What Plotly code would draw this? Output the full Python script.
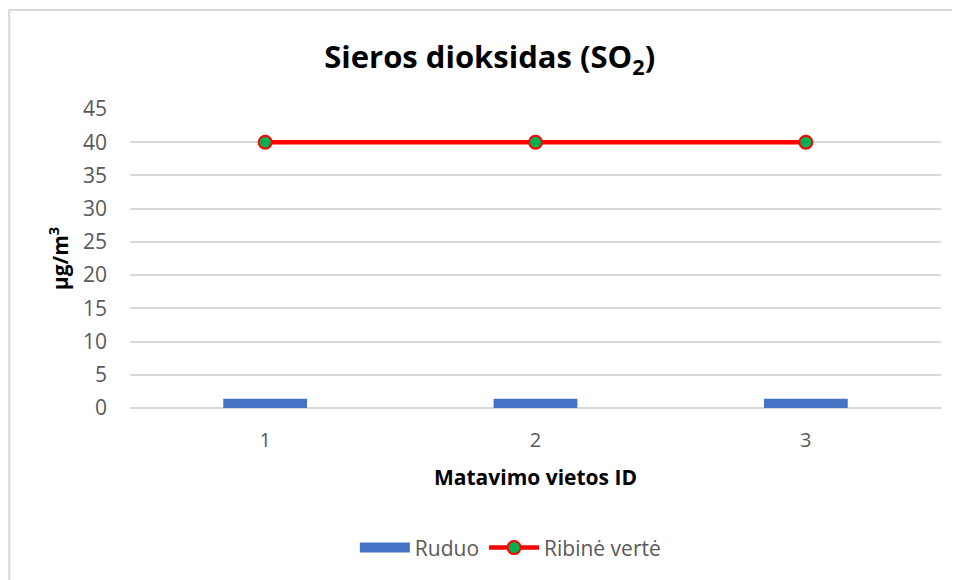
import plotly.graph_objects as go

sites = ['1', '2', '3']
ruduo = [1.4, 1.4, 1.4]
ribine_verte = [40, 40, 40]
y_ticks = [0, 5, 10, 15, 20, 25, 30, 35, 40, 45]

FONT = 'Open Sans'
GRID = '#d9d9d9'
TXT = '#595959'
BLUE = '#4472c4'

fig = go.Figure()

fig.add_trace(go.Bar(
    name='Ruduo',
    x=sites,
    y=ruduo,
    width=0.31,
    marker=dict(color=BLUE, line=dict(width=0)),
    showlegend=False,
    legendgroup='ruduo',
))

# legend entry drawn as a wide rectangle like in Excel
fig.add_trace(go.Scatter(
    name='Ruduo',
    x=[None],
    y=[None],
    mode='lines',
    line=dict(color=BLUE, width=12),
    legendgroup='ruduo',
))

fig.add_trace(go.Scatter(
    name='Ribinė vertė',
    x=sites,
    y=ribine_verte,
    mode='lines+markers',
    line=dict(color='#ff0000', width=4.5),
    marker=dict(color='#00b050', size=13, line=dict(color='#ff0000', width=2)),
))

# chart frame (left and top edges visible)
fig.add_shape(
    type='rect', xref='paper', yref='paper',
    x0=-0.149, x1=1.1, y0=-0.7, y1=1.331,
    line=dict(color='#d9d9d9', width=2),
)

# page body adds 8px, so the figure is a bit smaller than the window
fig.update_layout(
    width=952,
    height=572,
    margin=dict(l=122, r=19, t=101, b=172),
    paper_bgcolor='white',
    plot_bgcolor='white',
    font=dict(family=FONT, color=TXT),
    title=dict(
        text='<b>Sieros dioksidas (SO<sub>2</sub>)</b>',
        x=0.506, xanchor='center', y=0.914, yanchor='middle',
        font=dict(family=FONT, size=31, color='black'),
    ),
    legend=dict(
        orientation='h', x=0.469, xanchor='center', y=-0.468, yanchor='middle',
        font=dict(family=FONT, size=21, color=TXT),
        itemwidth=50,
    ),
    showlegend=True,
)

fig.update_xaxes(
    type='category',
    range=[-0.5, 2.5],
    showgrid=False,
    showline=False,
    ticks='',
    ticklabelstandoff=18,
    tickfont=dict(family=FONT, size=20, color=TXT),
    title=dict(text='<b>Matavimo vietos ID</b>', standoff=18,
               font=dict(family=FONT, size=21, color='black')),
)

fig.update_yaxes(
    range=[0, 45],
    tickvals=y_ticks,
    showgrid=True,
    gridcolor=GRID,
    gridwidth=1.5,
    zeroline=True,
    zerolinecolor=GRID,
    zerolinewidth=1.5,
    showline=False,
    ticks='',
    ticklabelstandoff=22,
    tickfont=dict(family=FONT, size=21, color=TXT),
    title=dict(text='<b>µg/m<sup>3</sup></b>', standoff=8,
               font=dict(family=FONT, size=21, color='black')),
)

fig.write_html('out.html')
